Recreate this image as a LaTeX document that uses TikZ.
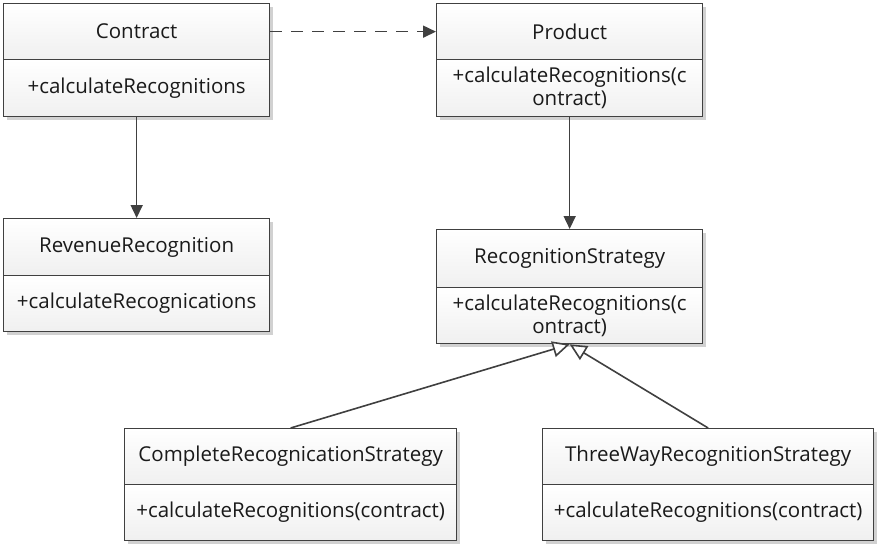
\documentclass[tikz,border=0pt]{standalone}
\usepackage{fontspec}
\setmainfont{Open Sans}
\usetikzlibrary{arrows.meta,shadows}
\definecolor{linec}{HTML}{404040}
\definecolor{txt}{HTML}{1A1A1A}
\tikzset{
  comp/.style={draw=linec, line width=1.3pt, top color=white, bottom color=black!6,
    anchor=north west, inner sep=0pt, text=txt,
    font=\fontsize{20.5}{23}\selectfont, align=center},
  shad/.style={drop shadow={shadow xshift=3pt, shadow yshift=-3pt, fill=black!18, opacity=1}},
  assoc/.style={draw=linec, line width=1.6pt, -{Triangle[length=13pt,width=12pt]}},
  dep/.style={assoc, dash pattern=on 12pt off 9pt},
  gen/.style={draw=linec, line width=1.6pt, -{Triangle[open,length=17pt,width=16pt,fill=white]}},
}
\begin{document}
\begin{tikzpicture}[x=1pt,y=-1pt]
\useasboundingbox (0,0) rectangle (880,548);
% Contract
\node[comp,shad,minimum width=266pt,minimum height=56pt] (ct) at (3,3) {Contract};
\node[comp,shad,minimum width=266pt,minimum height=57pt] (cm) at (3,59) {+calculateRecognitions};
% Product
\node[comp,shad,minimum width=266pt,minimum height=56pt] (pt) at (436,3) {Product};
\node[comp,shad,minimum width=266pt,minimum height=57pt] (pm) at (436,59) {+calculateRecognitions(c\\ontract)};
% RevenueRecognition
\node[comp,shad,minimum width=266pt,minimum height=57pt] (rt) at (3,218) {RevenueRecognition};
\node[comp,shad,minimum width=266pt,minimum height=56pt] (rm) at (3,275) {+calculateRecognications};
% RecognitionStrategy
\node[comp,shad,minimum width=266pt,minimum height=58pt] (st) at (436,229) {RecognitionStrategy};
\node[comp,shad,minimum width=266pt,minimum height=56pt] (sm) at (436,287) {+calculateRecognitions(c\\ontract)};
% CompleteRecognicationStrategy
\node[comp,shad,minimum width=332pt,minimum height=56pt] (at) at (124,428) {CompleteRecognicationStrategy};
\node[comp,shad,minimum width=332pt,minimum height=56pt] (am) at (124,484) {+calculateRecognitions(contract)};
% ThreeWayRecognitionStrategy
\node[comp,shad,minimum width=331pt,minimum height=56pt] (tt) at (542,428) {ThreeWayRecognitionStrategy};
\node[comp,shad,minimum width=331pt,minimum height=56pt] (tm) at (542,484) {+calculateRecognitions(contract)};
% connectors
\draw[dep] (ct.east) -- (pt.west);
\draw[assoc] (cm.south) -- (rt.north);
\draw[assoc] (pm.south) -- (st.north);
\draw[gen] (at.north) -- (sm.south);
\draw[gen] (tt.north) -- (sm.south);
\end{tikzpicture}
\end{document}
